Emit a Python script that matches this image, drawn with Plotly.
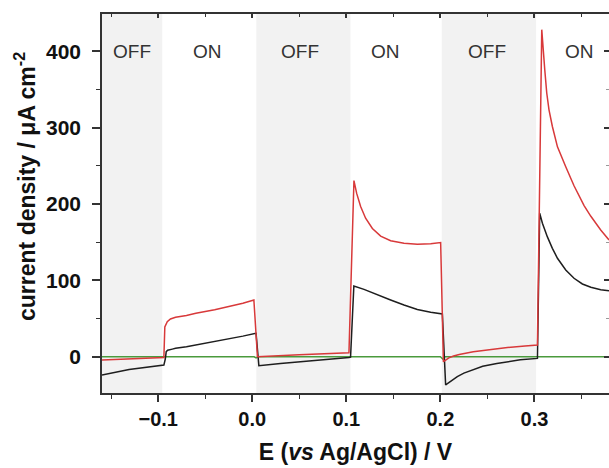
import plotly.graph_objects as go

# ---------------- data ----------------
black_x = [-0.1598, -0.131, -0.094, -0.0925, -0.0915, -0.090, -0.085, -0.0816, -0.070, -0.060,
           -0.040, -0.025, -0.010, 0.0040,
           0.0070, 0.030, 0.060, 0.1028, 0.1045,
           0.108, 0.1188, 0.133, 0.1471, 0.1613, 0.1755, 0.1897, 0.2021,
           0.2056, 0.210, 0.218, 0.225, 0.2322, 0.245, 0.260, 0.2713, 0.285, 0.3032,
           0.3056, 0.3085, 0.3138, 0.3191, 0.3245, 0.3333, 0.3421, 0.351, 0.360, 0.3705, 0.3793]
black_y = [-24, -16.6, -10.9, -3, 6.6, 8.5, 10, 11, 13, 15.3,
           19.5, 23, 27, 30.7,
           -11.8, -9, -6, -0.9, -0.5,
           92.7, 88.3, 81.8, 74.4, 67.8, 62, 58.2, 56,
           -37, -33, -26, -21.5, -18, -12.5, -9, -6.5, -4, -2.2,
           188, 175, 157, 142, 129, 113.7, 102.8, 95.3, 91, 87.9, 86.6]

red_x = [-0.1598, -0.094, -0.093, -0.0915, -0.0904, -0.087, -0.0816, -0.070, -0.060, -0.040,
         -0.025, -0.010, 0.0017,
         0.0055, 0.050, 0.1028,
         0.1081, 0.111, 0.1152, 0.1205, 0.1277, 0.1365, 0.1471, 0.1613, 0.1755, 0.1897, 0.2003,
         0.2032, 0.206, 0.209, 0.214, 0.220, 0.235, 0.250, 0.2713, 0.290, 0.3032,
         0.3078, 0.3092, 0.311, 0.3131, 0.3155, 0.3191, 0.3245, 0.3333, 0.3421, 0.3528, 0.360,
         0.3705, 0.3793]
red_y = [-4.3, -1, 39, 44, 46, 49.5, 51.6, 54, 57, 61.5,
         65.6, 70, 74.4,
         0, 2.5, 5.2,
         230.8, 214, 196.7, 181.5, 168, 158, 152, 148.7, 147.4, 148, 149.5,
         -6.5, -4, -1.5, 1, 3, 6.5, 9, 12, 14, 15.3,
         428.5, 402, 376, 345.5, 323.5, 301.6, 275, 249, 224, 198, 184,
         166, 153]

green_x = [-0.1598, 0.002, 0.004, 0.006, 0.200, 0.2025, 0.205, 0.3793]
green_y = [0, 0, -1.5, 0, 0, -3, 0, 0]

off_start = [-0.1598, 0.0043, 0.2015]
off_end = [-0.0957, 0.1044, 0.3018]

label_text = ["OFF", "ON", "OFF", "ON", "OFF", "ON"]
label_x = [-0.128, -0.048, 0.051, 0.142, 0.2494, 0.348]
label_y = 400

x_range = [-0.1598, 0.3793]
y_range = [-47.5, 449]

# ---------------- figure ----------------
FONT = "Liberation Sans, Arial, sans-serif"
fig = go.Figure()

fig.add_trace(go.Scatter(x=green_x, y=green_y, mode="lines",
                         line=dict(color="#4a9a3c", width=1.5), showlegend=False))
fig.add_trace(go.Scatter(x=black_x, y=black_y, mode="lines",
                         line=dict(color="#1e1e1e", width=1.5), showlegend=False))
fig.add_trace(go.Scatter(x=red_x, y=red_y, mode="lines",
                         line=dict(color="#d8393a", width=1.5), showlegend=False))
fig.add_trace(go.Scatter(x=[None], y=[None], xaxis="x2", yaxis="y2", showlegend=False,
                         hoverinfo="skip"))

for s, e in zip(off_start, off_end):
    fig.add_shape(type="rect", xref="x", yref="paper", x0=s, x1=e, y0=0, y1=1,
                  fillcolor="#f2f2f2", line=dict(width=0), layer="below")

for t, xx in zip(label_text, label_x):
    fig.add_annotation(x=xx, y=label_y, xref="x", yref="y", text=t, showarrow=False,
                       font=dict(family=FONT, size=19, color="#333333"))

fig.add_annotation(xref="paper", yref="paper", x=-0.152, y=0.546, textangle=-90,
                   xanchor="center", yanchor="middle",
                   text="<b>current density / μA cm<sup>-2</sup></b>", showarrow=False,
                   font=dict(family=FONT, size=23, color="#111111"))

axis_common = dict(showgrid=False, zeroline=False, linecolor="#333333", linewidth=1.5,
                   tickcolor="#333333", tickwidth=1.5)

fig.update_layout(
    width=609, height=468,
    margin=dict(l=102, r=0, t=14, b=75),
    plot_bgcolor="white", paper_bgcolor="white",
    xaxis=dict(range=x_range, dtick=0.1, tick0=0, tickformat=".1f",
               ticks="outside", ticklen=7, showline=True,
               minor=dict(dtick=0.05, ticks="outside", ticklen=4, tickcolor="#333333", tickwidth=1.2),
               tickfont=dict(family=FONT, size=20, color="#111111", weight="bold"),
               title=dict(text="<b>E (<i>vs</i> Ag/AgCl) / V</b>", standoff=15,
                          font=dict(family=FONT, size=23, color="#111111")),
               **axis_common),
    yaxis=dict(range=y_range, dtick=100, tick0=0,
               ticks="outside", ticklen=8, showline=True, ticklabelstandoff=7,
               minor=dict(dtick=50, ticks="outside", ticklen=4, tickcolor="#333333", tickwidth=1.2),
               tickfont=dict(family=FONT, size=21, color="#111111", weight="bold"),
               **axis_common),
    xaxis2=dict(overlaying="x", side="top", matches="x", range=x_range, dtick=0.1, tick0=0,
                ticks="inside", ticklen=4, showline=True, showticklabels=False,
                minor=dict(dtick=0.05, ticks="inside", ticklen=3, tickcolor="#333333", tickwidth=1.2),
                **axis_common),
    yaxis2=dict(overlaying="y", side="right", matches="y", range=y_range, dtick=100, tick0=0,
                ticks="inside", ticklen=5, showline=False, showticklabels=False,
                minor=dict(dtick=50, ticks="inside", ticklen=3, tickcolor="#999999", tickwidth=1.2),
                **axis_common),
)

fig.write_html("out.html", config={"displayModeBar": False},
               post_script="document.body.style.margin='0px';document.body.style.overflow='hidden';")
